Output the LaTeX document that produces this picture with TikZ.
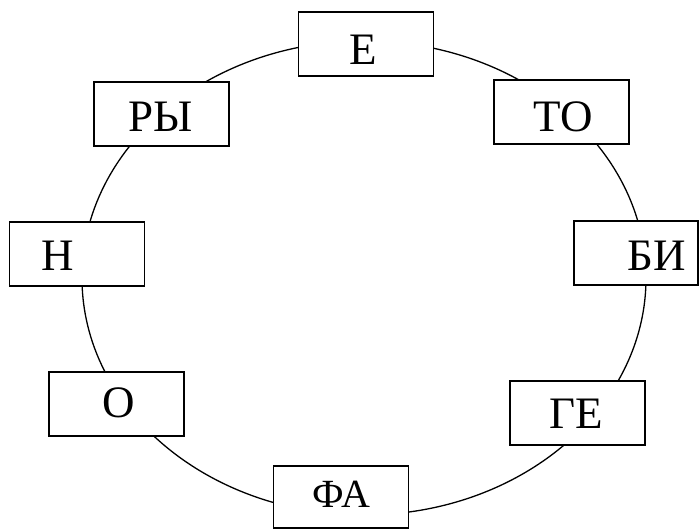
\documentclass[tikz,border=0pt]{standalone}
\usepackage{fontspec}
\setmainfont{Liberation Serif}
\tikzset{
  cell/.style={draw, line width=1.6pt, fill=white, minimum width=135pt, minimum height=64pt, inner sep=0pt},
  word/.style={anchor=base, inner sep=0pt, font=\fontsize{45}{50}\selectfont},
}
\begin{document}
\begin{tikzpicture}[x=1pt,y=-1pt]
   \useasboundingbox (0,0) rectangle (700,529);
   \draw[line width=1.3pt] (364,278) ellipse [x radius=282, y radius=237];
   % boxes round the ring
   \node[cell] (e) at (366,44) {};
   \node[cell] (to) at (561.5,112) {};
   \node[cell, minimum width=124pt] (bi) at (636,253) {};
   \node[cell] (ge) at (577.5,413) {};
   \node[cell, minimum height=62pt] (fa) at (341,497) {};
   \node[cell] (o) at (116.5,404) {};
   \node[cell] (n) at (77,254) {};
   \node[cell] (ry) at (161.5,114) {};
   % their words
   \node[word] (e-w) at (363,65) {Е};
   \node[word] (to-w) at (563,132) {ТО};
   \node[word] (bi-w) at (657,270) {БИ};
   \node[word] (ge-w) at (576,428) {ГЕ};
   \node[word, font=\fontsize{40}{46}\selectfont] (fa-w) at (341,507) {ФА};
   \node[word] (o-w) at (119,417) {О};
   \node[word] (n-w) at (57.5,270) {Н};
   \node[word] (ry-w) at (160.5,132) {РЫ};
\end{tikzpicture}
\end{document}
